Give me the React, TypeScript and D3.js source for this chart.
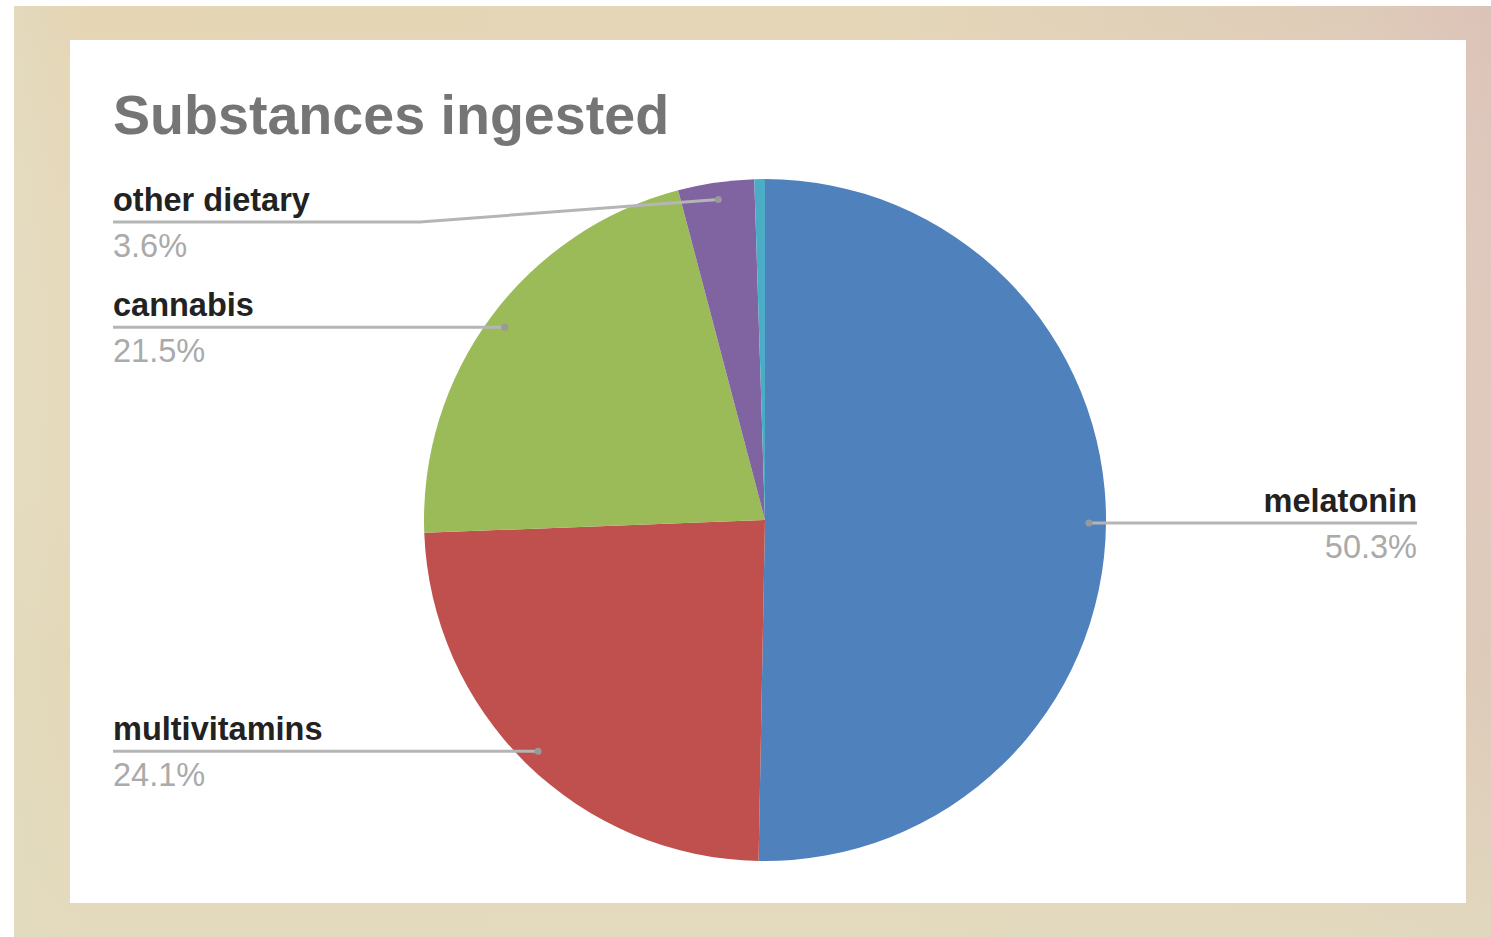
import React from "react";
import * as d3 from "d3";

const categories = ["melatonin", "multivitamins", "cannabis", "other dietary", "other"];
const values = [50.3, 24.1, 21.5, 3.6, 0.5];
const colors = ["#4F81BD", "#C0504D", "#9BBB59", "#8064A2", "#4BACC6"];
const showLabel = [true, true, true, true, false];
// label layout: side and label baseline y
const labelSide = ["right", "left", "left", "left", "left"];
const labelBaseline = [511, 740, 316, 211, 0];

const W = 1491, H = 937;
const cx = 765, cy = 520, R = 341;

export default function App() {
  const pie = d3.pie<number>().sort(null).value((d) => d)(values);
  const arc = d3.arc<d3.PieArcDatum<number>>().innerRadius(0).outerRadius(R);
  const dotArc = d3.arc<d3.PieArcDatum<number>>().innerRadius(R * 0.95).outerRadius(R * 0.95);
  const total = d3.sum(values);
  const fmt = (v: number) => d3.format(".1f")((v / total) * 100) + "%";
  const leftX = 113, rightX = 1417;
  const font = "Liberation Sans, Arial, sans-serif";
  return (
    <svg width={W} height={H} style={{ position: "absolute", left: 0, top: 0 }}>
      <defs>
        <linearGradient id="frameH" x1="0" y1="0" x2="1" y2="0">
          <stop offset="0" stopColor="#E3D9BC" />
          <stop offset="0.05" stopColor="#E5D5B4" />
          <stop offset="0.6" stopColor="#E4D6B8" />
          <stop offset="0.9" stopColor="#DFCCB8" />
          <stop offset="1" stopColor="#DCC3B8" />
        </linearGradient>
        <linearGradient id="frameV" x1="0" y1="0" x2="0" y2="1">
          <stop offset="0" stopColor="#fff" stopOpacity="0" />
          <stop offset="0.7" stopColor="#E2DBBD" stopOpacity="0.3" />
          <stop offset="1" stopColor="#E3DCC0" stopOpacity="0.8" />
        </linearGradient>
      </defs>
      <rect x={0} y={0} width={W} height={H} fill="#fff" />
      <rect x={14} y={6} width={W - 14} height={H - 6} fill="url(#frameH)" />
      <rect x={14} y={6} width={W - 14} height={H - 6} fill="url(#frameV)" />
      <rect x={70} y={40} width={1396} height={863} fill="#fff" />
      <text x={113} y={134} fontFamily={font} fontWeight="bold" fontSize={55.6} fill="#757575">
        Substances ingested
      </text>
      <g transform={`translate(${cx},${cy})`}>
        {pie.map((p, i) => (
          <path key={i} d={arc(p) || ""} fill={colors[i]} />
        ))}
      </g>
      {pie.map((p, i) => {
        if (!showLabel[i]) return null;
        const [dx, dy] = dotArc.centroid(p);
        const px = cx + dx, py = cy + dy;
        const lineY = labelBaseline[i] + 11;
        const right = labelSide[i] === "right";
        const tx = right ? rightX : leftX;
        let pts: [number, number][];
        const straight = Math.abs(lineY - py) < 4;
        if (straight) {
          pts = [[px, py], [tx, py]];
        } else {
          pts = [[px, py], [420, lineY], [tx, lineY]];
        }
        const ly = straight ? py : lineY;
        return (
          <g key={i}>
            <path d={d3.line()(pts) || ""} fill="none" stroke="#b5b5b5" strokeWidth={3} />
            <circle cx={px} cy={py} r={3.5} fill="#999" />
            <text x={tx} y={ly - 11} textAnchor={right ? "end" : "start"} fontFamily={font} fontWeight="bold" fontSize={32.5} fill="#222">
              {categories[i]}
            </text>
            <text x={tx} y={ly + 35} textAnchor={right ? "end" : "start"} fontFamily={font} fontSize={32.5} fill="#aaa">
              {fmt(values[i])}
            </text>
          </g>
        );
      })}
    </svg>
  );
}
